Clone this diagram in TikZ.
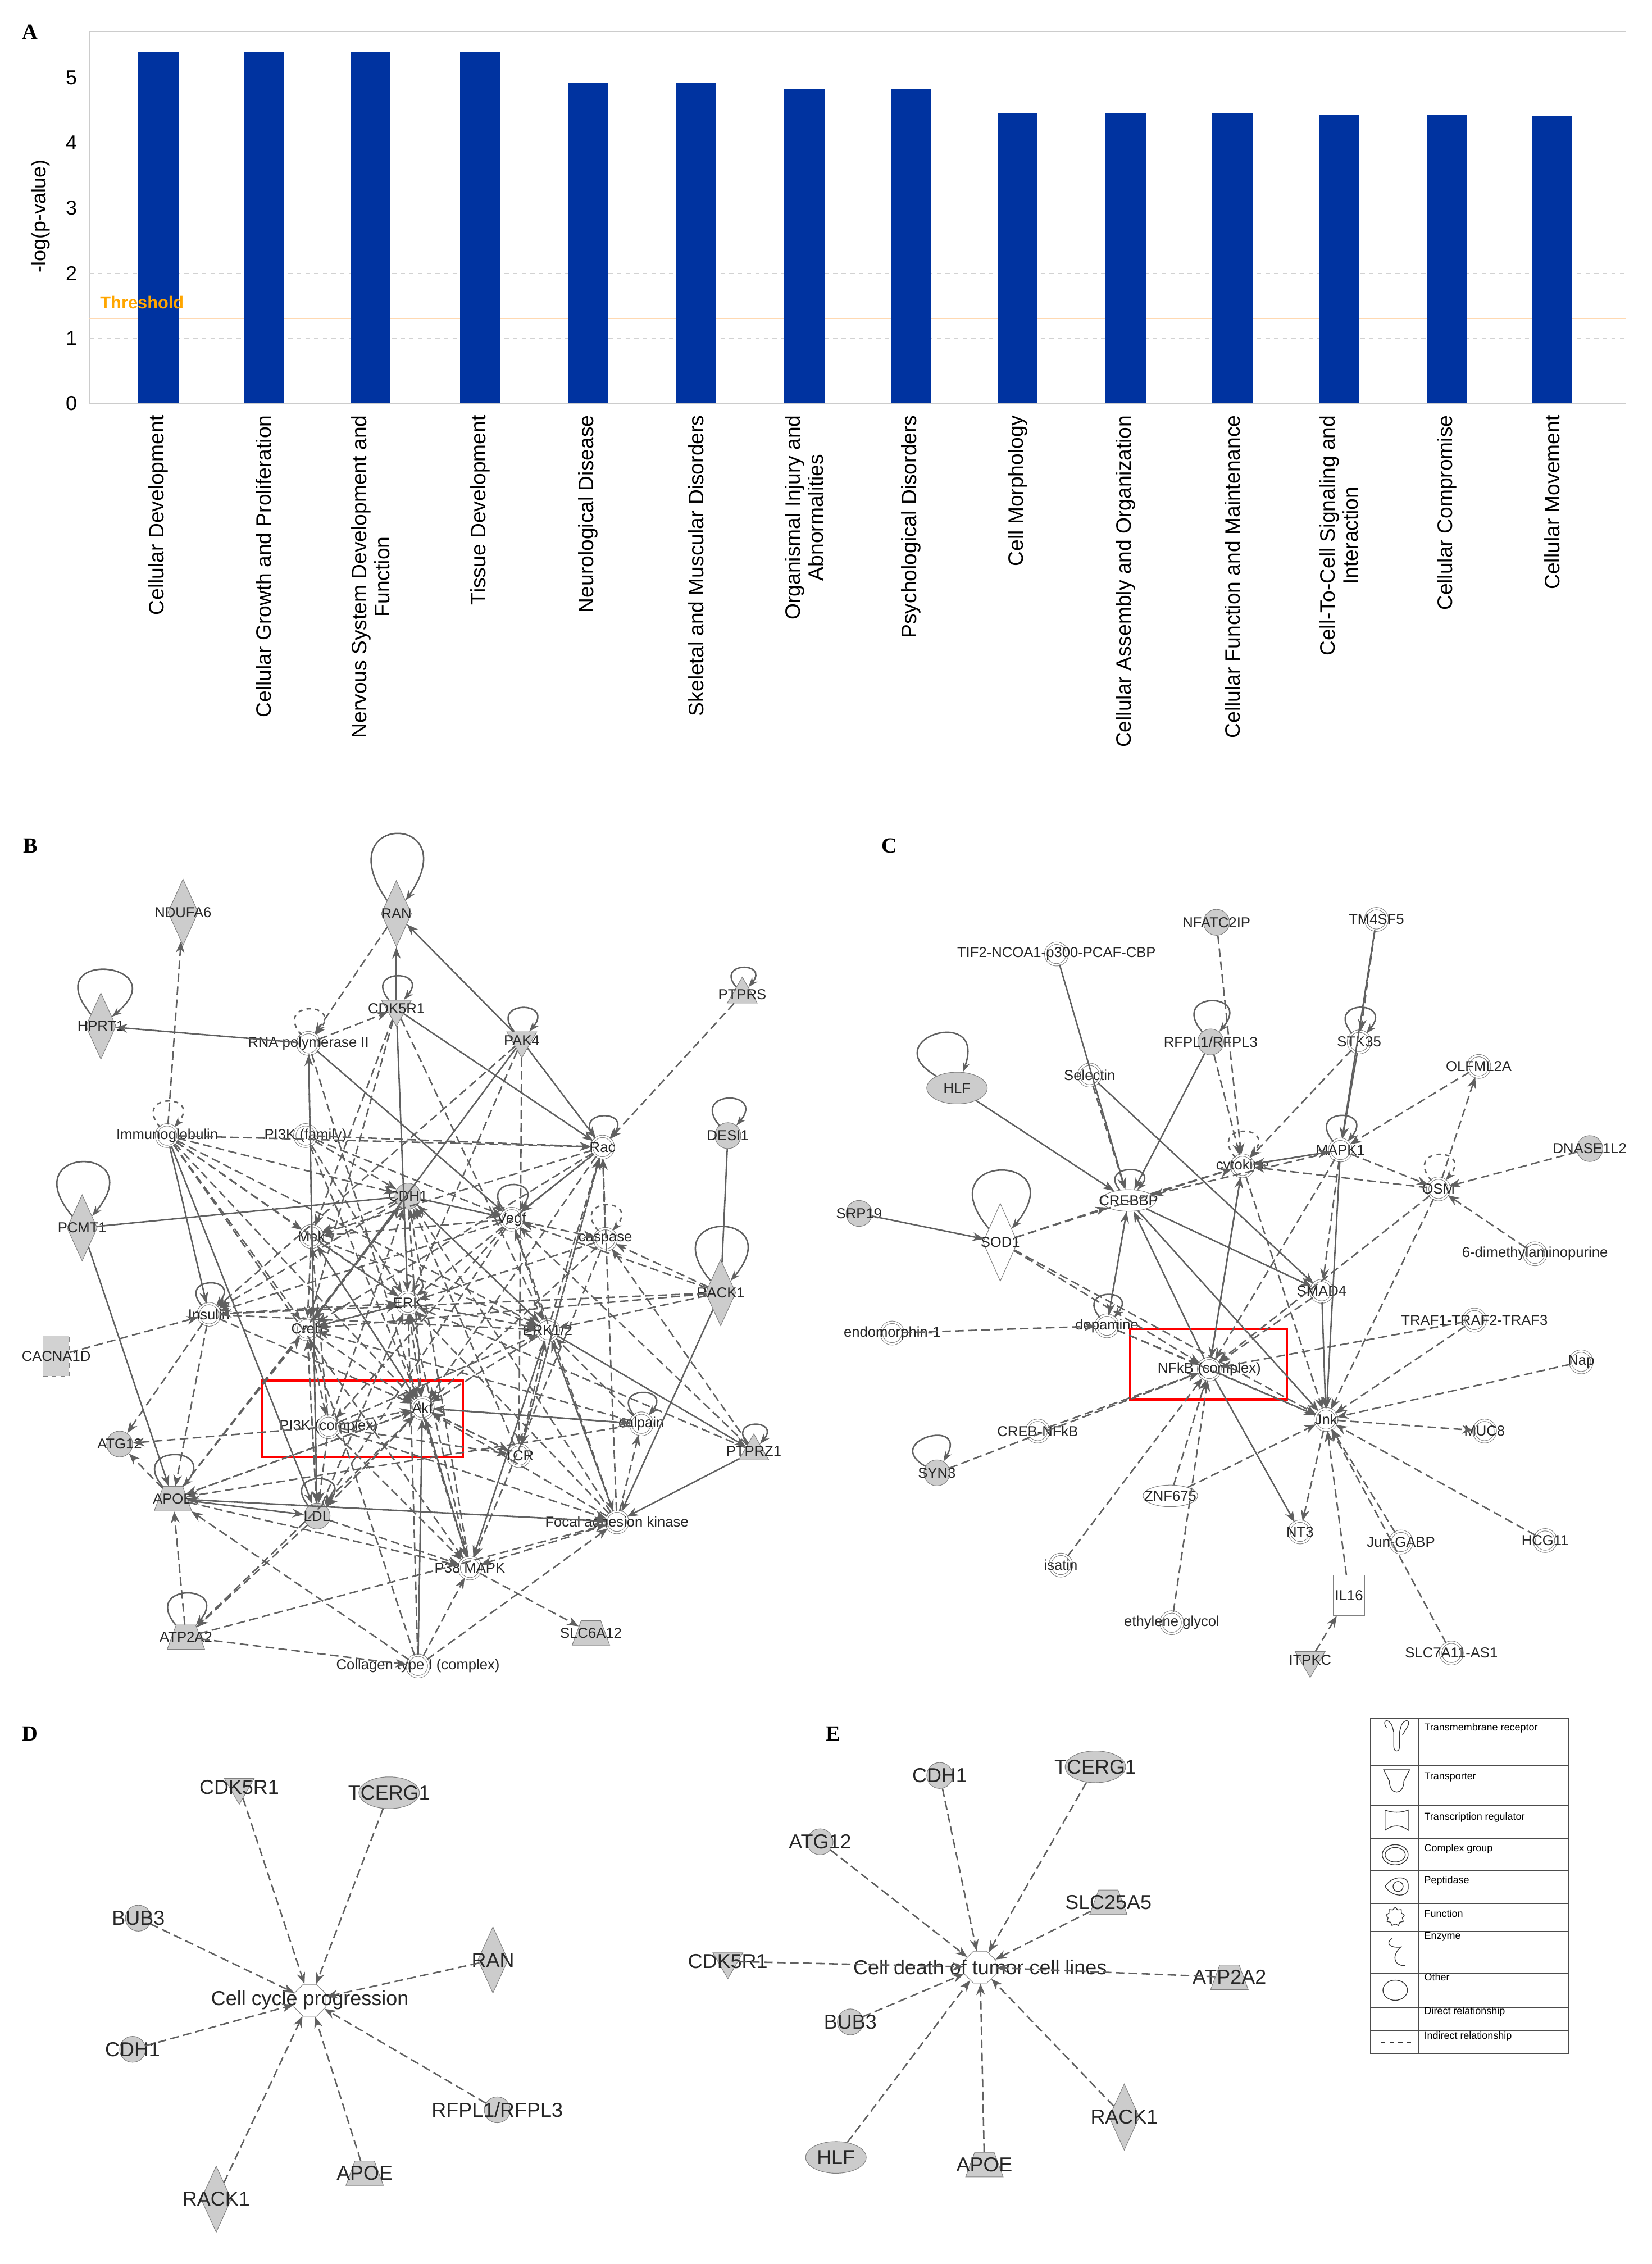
\documentclass[tikz,border=0pt]{standalone}
\usepackage{fontspec}
\setmainfont{Liberation Serif}
\newfontfamily\ar{Liberation Sans}
\usetikzlibrary{shapes.geometric,arrows.meta}
\definecolor{barblue}{RGB}{0,51,160}
\tikzset{
 lbl/.style={font=\ar\fontsize{10}{10}\selectfont,inner sep=0,text=black!85},
 lblb/.style={font=\ar\fontsize{14}{14}\selectfont,inner sep=0,text=black!85},
 gc/.style={circle,draw=gray,fill=gray!40,minimum size=18pt,inner sep=0},
 cx/.style={circle,draw=gray,double=white,double distance=1.2pt,fill=white,minimum size=15pt,inner sep=0},
 ov/.style={ellipse,draw=gray,fill=white,minimum width=38pt,minimum height=15pt,inner sep=0},
 gov/.style={ellipse,draw=gray,fill=gray!40,minimum width=42pt,minimum height=22pt,inner sep=0},
 dm/.style={diamond,draw=gray,fill=gray!40,minimum width=21pt,minimum height=46pt,inner sep=0},
 td/.style={regular polygon,regular polygon sides=3,shape border rotate=180,draw=gray,fill=gray!40,minimum size=24pt,inner sep=0},
 tu/.style={regular polygon,regular polygon sides=3,draw=gray,fill=gray!40,minimum size=24pt,inner sep=0},
 tz/.style={trapezium,trapezium angle=65,trapezium stretches=true,draw=gray,fill=gray!40,minimum width=26pt,minimum height=17pt,inner sep=1pt},
 fn/.style={regular polygon,regular polygon sides=8,draw=gray,fill=white,minimum size=24pt,inner sep=0},
 de/.style={draw=gray!75!black,dashed,dash pattern=on 6pt off 3pt,line width=1pt,-{Stealth[length=8pt,width=6pt]}},
 so/.style={draw=gray!75!black,line width=1pt,-{Stealth[length=8pt,width=6pt]}},
 sl/.style={draw=gray!75!black,line width=1pt},
 lp/.style={draw=gray!75!black,line width=1pt,-{Stealth[length=7pt,width=5pt]},looseness=6},
 pl/.style={font=\bfseries\fontsize{15}{15}\selectfont,inner sep=0},
 xl/.style={font=\ar\fontsize{14.5}{16}\selectfont,rotate=90,anchor=east,align=center,inner sep=0},
}
\newcommand\N[5]{\node[#1] (#2) at (#3) {}; \node[#5] at (#2) {#4};}
\newcommand\E[3]{\draw[#1] (#2) -- (#3);}
\begin{document}
\begin{tikzpicture}[x=1pt,y=-1pt]
\useasboundingbox[fill=white] (0,0) rectangle (1146,1571);
% ---------- Panel A
\node[pl] (pA) at (21,22) {A};
\draw[gray!40] (62,22) rectangle (1128,280);
\foreach \v in {1,2,3,4,5} {\draw[gray!35,dashed] (62,{280-\v*45.2}) -- (1128,{280-\v*45.2});
 \node[font=\ar\fontsize{14}{14}\selectfont,anchor=east] at (57,{280-\v*45.2}) {\v};}
\node[font=\ar\fontsize{14}{14}\selectfont,anchor=east] at (57,280) {0};
\draw[orange!30] (62,221) -- (1128,221);
\node[font=\ar\fontsize{14}{14}\selectfont,rotate=90] at (28,150) {-log(p-value)};
\foreach \x/\h in {110/5.4,183/5.4,257/5.4,333/5.4,408/4.92,483/4.92,558/4.82,632/4.82,706/4.46,781/4.46,855/4.46,929/4.44,1004/4.44,1077/4.42}
 \fill[barblue] (\x-14,280) rectangle (\x+14,{280-\h*45.2});
\node[font=\ar\bfseries\fontsize{12}{12}\selectfont,text=orange!70!yellow,anchor=west] at (66,210) {Threshold};
\node[xl] at (110,288) {Cellular Development};
\node[xl] at (183,288) {Cellular Growth and Proliferation};
\node[xl] at (257,288) {Nervous System Development and\\Function};
\node[xl] at (333,288) {Tissue Development};
\node[xl] at (408,288) {Neurological Disease};
\node[xl] at (483,288) {Skeletal and Muscular Disorders};
\node[xl] at (558,288) {Organismal Injury and\\Abnormalities};
\node[xl] at (632,288) {Psychological Disorders};
\node[xl] at (706,288) {Cell Morphology};
\node[xl] at (781,288) {Cellular Assembly and Organization};
\node[xl] at (855,288) {Cellular Function and Maintenance};
\node[xl] at (929,288) {Cell-To-Cell Signaling and\\Interaction};
\node[xl] at (1004,288) {Cellular Compromise};
\node[xl] at (1077,288) {Cellular Movement};
% ---------- Panel B
\node[pl] at (21,587) {B};
\N{dm}{nd}{127,633}{NDUFA6}{lbl}
\N{dm}{ran}{275,634}{RAN}{lbl}
\N{dm}{hp}{70,712}{HPRT1}{lbl}
\N{cx}{rna}{214,724}{RNA polymerase II}{lbl}
\N{td}{cdk}{275,700}{CDK5R1}{lbl}
\N{td}{pak}{362,722}{PAK4}{lbl}
\N{tu}{ptprs}{515,690}{PTPRS}{lbl}
\N{cx}{imm}{116,788}{Immunoglobulin}{lbl}
\N{cx}{pif}{212,788}{PI3K (family)}{lbl}
\N{cx}{rac}{418,796}{Rac}{lbl}
\N{gc}{desi}{505,788}{DESI1}{lbl}
\N{gc}{cdh}{283,830}{CDH1}{lbl}
\N{cx}{vegf}{355,846}{Vegf}{lbl}
\N{cx}{casp}{420,860}{caspase}{lbl}
\N{dm}{pcmt}{57,852}{PCMT1}{lbl}
\N{cx}{mek}{216,858}{Mek}{lbl}
\N{dm}{rack}{500,897}{RACK1}{lbl}
\N{cx}{ins}{145,912}{Insulin}{lbl}
\N{cx}{creb}{213,922}{Creb}{lbl}
\N{cx}{erk}{283,904}{ERK}{lbl}
\N{cx}{erk12}{380,923}{ERK1/2}{lbl}
\node[rectangle,draw=gray,dashed,fill=gray!35,minimum width=18pt,minimum height=28pt] (cac) at (39,941) {};
\node[lbl] at (cac) {CACNA1D};
\N{cx}{pic}{228,990}{PI3K (complex)}{lbl}
\N{cx}{akt}{293,977}{Akt}{lbl}
\N{cx}{calp}{445,988}{calpain}{lbl}
\N{cx}{tcr}{360,1010}{TCR}{lbl}
\N{gc}{atg}{83,1002}{ATG12}{lbl}
\N{tu}{ptprz}{523,1007}{PTPRZ1}{lbl}
\N{tz}{apoe}{120,1040}{APOE}{lbl}
\N{gc}{ldl}{220,1052}{LDL}{lbl}
\N{cx}{fak}{428,1056}{Focal adhesion kinase}{lbl}
\N{cx}{p38}{326,1088}{P38 MAPK}{lbl}
\N{tz}{atp}{129,1136}{ATP2A2}{lbl}
\N{tz}{slc}{410,1133}{SLC6A12}{lbl}
\N{cx}{col}{290,1156}{Collagen type I (complex)}{lbl}
\draw[red,line width=1.6pt] (182,958) rectangle (321,1011);
% loops
\path (ran) edge[lp,out=125,in=55,min distance=75pt] (ran);
\path (hp) edge[lp,out=130,in=40,min distance=60pt] (hp);
\path (pcmt) edge[lp,out=130,in=50,min distance=65pt] (pcmt);
\path (rack) edge[lp,out=130,in=50,min distance=65pt] (rack);
\path (cdk) edge[lp,out=130,in=50,looseness=7] (cdk);
\path (pak) edge[lp,out=130,in=50,looseness=7] (pak);
\path (ptprs) edge[lp,out=130,in=50,looseness=7] (ptprs);
\path (ptprz) edge[lp,out=130,in=50,looseness=7] (ptprz);
\path (desi) edge[lp,out=130,in=50,looseness=7] (desi);
\path (rna) edge[lp,dashed,out=130,in=50,looseness=8] (rna);
\path (imm) edge[lp,dashed,out=130,in=50,looseness=8] (imm);
\path (casp) edge[lp,dashed,out=130,in=50,looseness=8] (casp);
\path (rac) edge[lp,out=130,in=50,looseness=7] (rac);
\path (vegf) edge[lp,out=130,in=50,looseness=8] (vegf);
\path (apoe) edge[lp,out=130,in=50,looseness=7] (apoe);
\path (atp) edge[lp,out=130,in=50,looseness=7] (atp);
\path (calp) edge[lp,out=130,in=50,looseness=7] (calp);
\path (ins) edge[lp,out=130,in=50,looseness=7] (ins);
\path (ldl) edge[lp,out=130,in=50,looseness=7] (ldl);
% solid edges
\E{so}{cdk}{ran}\E{so}{pak}{ran}\E{so}{rna}{hp}\E{so}{ldl}{rna}\E{so}{cdk}{rac}\E{so}{pak}{rac}
\E{so}{rack}{fak}\E{so}{imm}{ins}\E{so}{imm}{ldl}\E{so}{apoe}{ldl}\E{so}{col}{akt}\E{so}{cdh}{vegf}
\E{so}{ptprz}{fak}\E{so}{pak}{creb}\E{so}{erk12}{ptprz}\E{so}{akt}{calp}\E{so}{rna}{vegf}\E{so}{cdk}{erk}
\E{sl}{pcmt}{cdh}\E{so}{pcmt}{apoe}\E{sl}{desi}{rack}\E{so}{rac}{vegf}\E{so}{fak}{erk12}\E{so}{erk12}{p38}
% dashed edges
\foreach \a/\b in {ran/rna,ptprs/rac,imm/nd,imm/rac,imm/mek,imm/creb,imm/erk,imm/cdh,imm/erk12,imm/akt,imm/p38,
 pif/akt,pif/cdh,pif/rac,pif/erk,pif/vegf,rna/cdk,cdk/mek,cdk/creb,cdk/erk12,pak/erk,pak/ins,pak/tcr,
 rac/mek,rac/erk,rac/creb,rac/akt,rac/tcr,vegf/casp,vegf/mek,vegf/ins,vegf/pic,vegf/fak,vegf/ldl,casp/erk,casp/akt,casp/p38,
 rack/casp,rack/vegf,rack/ins,rack/erk12,rack/creb,cac/ins,ins/atg,ins/apoe,ins/erk,ins/akt,ins/erk12,
 mek/erk,mek/erk12,mek/akt,mek/creb,creb/akt,creb/erk,erk/akt,erk/creb,erk/erk12,erk12/akt,erk12/vegf,erk12/cdh,
 pic/akt,pic/cdh,pic/mek,pic/erk12,pic/tcr,pic/p38,pic/fak,pic/atg,pic/ldl,akt/tcr,akt/ldl,akt/p38,akt/apoe,akt/mek,
 calp/erk12,calp/akt,calp/apoe,calp/creb,tcr/erk12,tcr/akt,tcr/cdh,apoe/atg,apoe/akt,apoe/cdh,apoe/p38,apoe/fak,apoe/creb,
 ldl/akt,ldl/erk,ldl/p38,ldl/creb,fak/akt,fak/p38,fak/apoe,fak/calp,fak/cdh,fak/erk,fak/rac,p38/slc,p38/akt,p38/erk,p38/cdh,
 col/p38,col/fak,col/apoe,col/erk,col/creb,atp/col,atp/akt,atp/apoe,atp/fak,ldl/atp,erk12/rac,ptprz/erk,ptprz/vegf,ptprz/casp,
 cdh/mek,cdh/akt,cdh/erk12,cdh/creb,cdh/ins,rna/p38,rna/ldl,creb/pic,tcr/rac,casp/rac,creb/ldl}
 {\draw[de] (\a) -- (\b);}
% ---------- Panel C
\node[pl] at (617,587) {C};
\N{gc}{nfat}{844,640}{NFATC2IP}{lbl}
\N{cx}{tm4}{955,638}{TM4SF5}{lbl}
\N{cx}{tif}{733,662}{TIF2-NCOA1-p300-PCAF-CBP}{lbl}
\N{gov}{hlf}{664,755}{HLF}{lbl}
\N{gc}{rfpl}{840,723}{RFPL1/RFPL3}{lbl}
\N{cx}{stk}{943,723}{STK35}{lbl}
\N{cx}{olf}{1026,740}{OLFML2A}{lbl}
\N{cx}{sel}{756,746}{Selectin}{lbl}
\N{cx}{cyt}{862,809}{cytokine}{lbl}
\N{cx}{mapk}{930,798}{MAPK1}{lbl}
\N{gc}{dna}{1103,797}{DNASE1L2}{lbl}
\N{cx}{osm}{998,825}{OSM}{lbl}
\N{ov}{crebbp}{783,833}{CREBBP}{lbl}
\N{gc}{srp}{596,842}{SRP19}{lbl}
\node[diamond,draw=gray,fill=white,minimum width=24pt,minimum height=54pt,inner sep=0] (sod) at (694,862) {};
\node[lbl] at (sod) {SOD1};
\N{cx}{dmap}{1065,870}{6-dimethylaminopurine}{lbl}
\N{cx}{smad}{917,896}{SMAD4}{lbl}
\N{cx}{endo}{619,925}{endomorphin-1}{lbl}
\N{cx}{dop}{768,920}{dopamine}{lbl}
\N{cx}{traf}{1023,916}{TRAF1-TRAF2-TRAF3}{lbl}
\N{cx}{nfkb}{839,950}{NFkB (complex)}{lbl}
\N{cx}{nap}{1097,945}{Nap}{lbl}
\N{cx}{jnk}{920,985}{Jnk}{lbl}
\N{cx}{crebnf}{720,993}{CREB-NFkB}{lbl}
\N{cx}{muc}{1030,993}{MUC8}{lbl}
\N{gc}{syn}{650,1022}{SYN3}{lbl}
\N{ov}{znf}{812,1038}{ZNF675}{lbl}
\N{cx}{nt3}{902,1063}{NT3}{lbl}
\N{cx}{jun}{972,1070}{Jun-GABP}{lbl}
\N{cx}{hcg}{1072,1069}{HCG11}{lbl}
\N{cx}{isa}{736,1086}{isatin}{lbl}
\node[rectangle,draw=gray,fill=white,minimum width=22pt,minimum height=28pt] (il16) at (936,1107) {};
\node[lbl] at (il16) {IL16};
\N{cx}{eth}{813,1126}{ethylene glycol}{lbl}
\N{td}{itp}{909,1152}{ITPKC}{lbl}
\N{cx}{slc7}{1007,1147}{SLC7A11-AS1}{lbl}
\draw[red,line width=1.6pt] (784,922) rectangle (893,971);
\path (hlf) edge[lp,out=150,in=70,looseness=7] (hlf);
\path (rfpl) edge[lp,out=130,in=50,looseness=8] (rfpl);
\path (stk) edge[lp,out=130,in=50,looseness=8] (stk);
\path (sod) edge[lp,out=130,in=50,min distance=70pt] (sod);
\path (syn) edge[lp,out=150,in=60,looseness=7] (syn);
\path (crebbp) edge[lp,out=130,in=50,looseness=5] (crebbp);
\path (cyt) edge[lp,dashed,out=130,in=50,looseness=8] (cyt);
\path (mapk) edge[lp,out=130,in=50,looseness=8] (mapk);
\path (osm) edge[lp,dashed,out=130,in=50,looseness=8] (osm);
\path (dop) edge[lp,out=130,in=50,looseness=7] (dop);
% solid
\E{so}{tif}{crebbp}\E{so}{hlf}{crebbp}\E{so}{sel}{smad}\E{so}{srp}{sod}\E{so}{rfpl}{crebbp}
\E{so}{stk}{mapk}\E{so}{mapk}{cyt}\E{so}{crebbp}{smad}\E{so}{smad}{jnk}\E{so}{mapk}{jnk}\E{so}{crebbp}{jnk}
\E{so}{nfkb}{crebbp}\E{so}{nfkb}{cyt}\E{so}{tm4}{mapk}\E{so}{nfkb}{nt3}
% dashed
\foreach \a/\b in {nfat/cyt,tm4/stk,olf/mapk,osm/olf,dna/osm,sel/crebbp,sod/crebbp,sod/cyt,sod/nfkb,sod/jnk,crebbp/cyt,
 cyt/mapk,cyt/nfkb,cyt/jnk,mapk/osm,mapk/nfkb,mapk/crebbp,mapk/smad,osm/jnk,osm/nfkb,osm/cyt,dmap/osm,traf/nfkb,traf/jnk,
 nap/jnk,endo/dop,dop/nfkb,dop/jnk,dop/crebbp,crebnf/nfkb,syn/nfkb,znf/nfkb,znf/jnk,isa/nfkb,eth/nfkb,nfkb/jnk,
 jnk/muc,jnk/nt3,jun/jnk,hcg/jnk,il16/jnk,itp/il16,slc7/jnk,smad/nfkb,rfpl/cyt,stk/cyt,crebbp/dop}
 {\draw[de] (\a) -- (\b);}
% ---------- Panel D
\node[pl] at (21,1203) {D};
\node[fn] (ccp) at (215,1388) {};
\node[lblb] at (ccp) {Cell cycle progression};
\N{td}{dcdk}{166,1240}{CDK5R1}{lblb}
\N{gov}{dtce}{270,1244}{TCERG1}{lblb}
\N{gc}{dbub}{96,1331}{BUB3}{lblb}
\N{dm}{dran}{342,1360}{RAN}{lblb}
\N{gc}{dcdh}{92,1422}{CDH1}{lblb}
\N{gc}{drf}{345,1464}{RFPL1/RFPL3}{lblb}
\N{dm}{drack}{150,1526}{RACK1}{lblb}
\N{tz}{dapo}{253,1508}{APOE}{lblb}
\foreach \a in {dcdk,dtce,dbub,dran,dcdh,drf,drack,dapo} {\draw[de] (\a) -- (ccp);}
% ---------- Panel E
\node[pl] at (578,1203) {E};
\node[fn] (cdt) at (680,1365) {};
\node[lblb] at (cdt) {Cell death of tumor cell lines};
\N{gc}{ecdh}{652,1232}{CDH1}{lblb}
\N{gov}{etce}{760,1226}{TCERG1}{lblb}
\N{gc}{eatg}{569,1278}{ATG12}{lblb}
\N{tz}{eslc}{769,1320}{SLC25A5}{lblb}
\N{td}{ecdk}{505,1361}{CDK5R1}{lblb}
\N{tz}{eatp}{853,1372}{ATP2A2}{lblb}
\N{gc}{ebub}{590,1403}{BUB3}{lblb}
\N{dm}{erack}{780,1469}{RACK1}{lblb}
\N{gov}{ehlf}{580,1497}{HLF}{lblb}
\N{tz}{eapo}{683,1502}{APOE}{lblb}
\foreach \a in {ecdh,etce,eatg,eslc,ecdk,eatp,ebub,erack,ehlf,eapo} {\draw[de] (\a) -- (cdt);}
% ---------- Legend
\draw[black!70,line width=0.8pt] (951,1192) rectangle (1088,1425);
\draw[black!70,line width=0.8pt] (984,1192) -- (984,1425);
\foreach \y in {1225,1253,1276,1298,1321,1340,1369,1393,1409} \draw[black!70,line width=0.6pt] (951,\y) -- (1088,\y);
\tikzset{lg/.style={font=\ar\fontsize{7}{7}\selectfont,anchor=west,inner sep=0}}
\node[lg] at (988,1199) {Transmembrane receptor};
\node[lg] at (988,1233) {Transporter};
\node[lg] at (988,1261) {Transcription regulator};
\node[lg] at (988,1283) {Complex group};
\node[lg] at (988,1305) {Peptidase};
\node[lg] at (988,1328) {Function};
\node[lg] at (988,1344) {Enzyme};
\node[lg] at (988,1372) {Other};
\node[lg] at (988,1396) {Direct relationship};
\node[lg] at (988,1413) {Indirect relationship};
\begin{scope}[black!80,line width=0.5pt]
\draw (962,1199) .. controls (958,1193) and (964,1192) .. (966,1198) -- (967,1202) -- (967,1212) .. controls (967,1216) and (971,1216) .. (971,1212) -- (971,1202) -- (972,1198) .. controls (974,1192) and (980,1193) .. (976,1199) -- (973,1204);
\draw (960,1228) -- (978,1228) -- (974,1236) .. controls (974,1246) and (964,1246) .. (964,1236) -- cycle;
\draw (961,1256) .. controls (966,1258) and (972,1258) .. (977,1256) -- (977,1270) .. controls (972,1266) and (966,1266) .. (961,1270) -- cycle;
\draw (968,1287) ellipse (9pt and 7pt); \draw (968,1287) ellipse (7pt and 5pt);
\draw (961,1309) .. controls (966,1301) and (978,1301) .. (977,1309) .. controls (978,1317) and (966,1317) .. (961,1309);
\draw (970,1309) circle (3.5pt);
\node[star,star points=9,star point ratio=1.3,draw,minimum size=13pt,inner sep=0] (lgfn) at (968,1330) {};
\draw (966,1345) .. controls (960,1349) and (966,1352) .. (972,1351) .. controls (966,1356) and (966,1364) .. (975,1364);
\draw (968,1381) ellipse (8.5pt and 7pt);
\draw (958,1401) -- (979,1401);
\draw[dashed] (958,1417) -- (979,1417);
\end{scope}
\end{tikzpicture}
\end{document}
